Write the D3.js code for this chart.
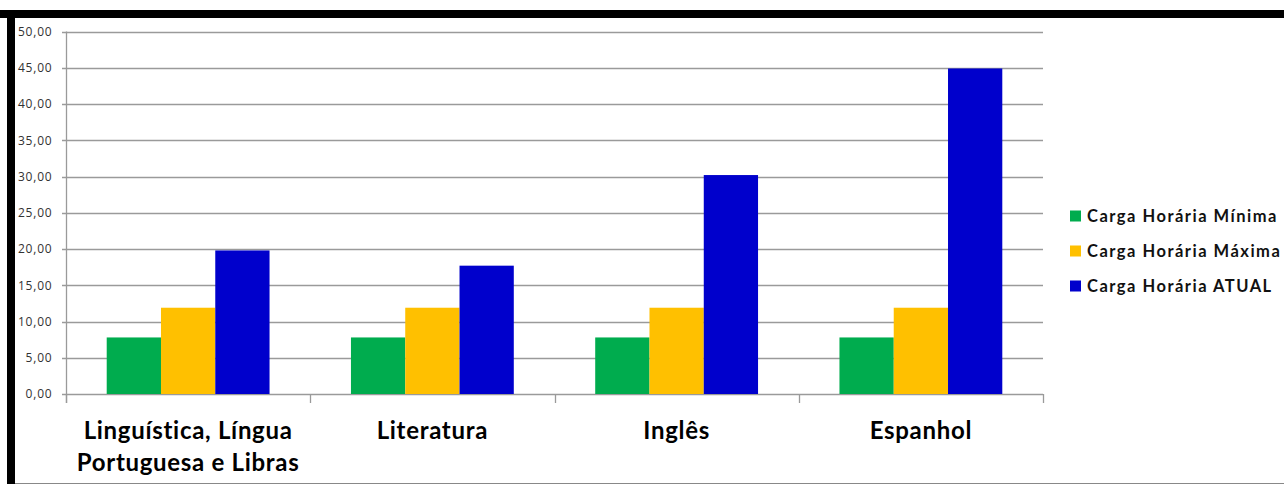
<!DOCTYPE html>
<html><head><meta charset="utf-8">
<script src="https://cdn.jsdelivr.net/npm/d3@7"></script>
<style>html,body{margin:0;padding:0;background:#fff;}svg{display:block;}</style>
</head><body>
<script>
const categories = [["Linguística, Língua","Portuguesa e Libras"],["Literatura"],["Inglês"],["Espanhol"]];
const seriesNames = ["Carga Horária Mínima","Carga Horária Máxima","Carga Horária ATUAL"];
const minima = [7.8, 7.8, 7.8, 7.8];
const maxima = [11.9, 11.9, 11.9, 11.9];
const atual = [19.8, 17.7, 30.2, 44.9];
const yTicks = [0,5,10,15,20,25,30,35,40,45,50];
const colors = ["#00AC4E","#FFC000","#0000CC"];

(function(){
const W=1284,H=484;
const svg=d3.select("body").append("svg").attr("width",W).attr("height",H);
svg.append("rect").attr("width",W).attr("height",H).attr("fill","#fff");
// frame
svg.append("rect").attr("x",0).attr("y",10).attr("width",W).attr("height",8).attr("fill","#000");
svg.append("rect").attr("x",7).attr("y",10).attr("width",8).attr("height",H-10).attr("fill","#000");
svg.append("line").attr("x1",15).attr("x2",W).attr("y1",483.5).attr("y2",483.5).attr("stroke","#888").attr("stroke-width",1);

const pLeft=66,pRight=1043,pTop=31.5,pBottom=394;
const idx=categories.map((c,i)=>i);
const x0=d3.scaleBand().domain(idx).range([pLeft,pRight]).paddingInner(1/3).paddingOuter(1/6);
const x1=d3.scaleBand().domain([0,1,2]).range([0,x0.bandwidth()]);
const y=d3.scaleLinear().domain([0,50]).range([pBottom,pTop]);
const fmt=v=>d3.format(".2f")(v).replace(".",",");

// gridlines
svg.append("g").selectAll("line").data(yTicks).join("line")
 .attr("x1",pLeft-4).attr("x2",pRight).attr("y1",d=>Math.round(y(d))+0.5).attr("y2",d=>Math.round(y(d))+0.5)
 .attr("stroke","#9a9a9a").attr("stroke-width",1.3);
// y axis
const yAxis=svg.append("g").attr("transform",`translate(${pLeft+0.5},0)`)
 .call(d3.axisLeft(y).tickValues(yTicks).tickFormat(fmt).tickSize(0).tickPadding(14));
yAxis.select(".domain").attr("stroke","#9a9a9a").attr("stroke-width",1.3).attr("d",`M0,${pTop}V${pBottom+9}`);
yAxis.selectAll("text").attr("font-family","'Open Sans', sans-serif").attr("font-size","12px")
 .attr("letter-spacing","0.8px").attr("fill","#333");

// bars
const series=[minima,maxima,atual];
const g=svg.append("g");
series.forEach((vals,s)=>{
  g.selectAll(null).data(vals).join("rect")
   .attr("x",(d,i)=>x0(i)+x1(s)).attr("width",x1.bandwidth())
   .attr("y",d=>y(d)).attr("height",d=>y(0)-y(d))
   .attr("fill",colors[s]);
});

// category ticks
const step=x0.step();
const bounds=d3.range(categories.length+1).map(i=>pLeft+i*step);
svg.append("g").selectAll("line").data(bounds).join("line")
 .attr("x1",d=>Math.round(d)+0.5).attr("x2",d=>Math.round(d)+0.5).attr("y1",pBottom).attr("y2",pBottom+9)
 .attr("stroke","#9a9a9a").attr("stroke-width",1.3);

// x labels
const xl=svg.append("g");
categories.forEach((lines,i)=>{
  const cx=x0(i)+x0.bandwidth()/2;
  const t=xl.append("text").attr("x",cx).attr("y",439)
   .attr("text-anchor","middle").attr("font-family","Lato, sans-serif").attr("font-weight","bold")
   .attr("font-size","24px").attr("letter-spacing","0.7px").attr("fill","#000");
  lines.forEach((l,j)=>t.append("tspan").attr("x",cx).attr("dy",j?32:0).text(l));
});

// legend
const lg=svg.append("g");
seriesNames.forEach((n,i)=>{
  const cy=216+i*35;
  lg.append("rect").attr("x",1070).attr("y",cy-5.5).attr("width",11).attr("height",11).attr("fill",colors[i]);
  lg.append("text").attr("x",1087).attr("y",cy+6).attr("font-family","Lato, sans-serif").attr("font-weight","bold")
   .attr("font-size","16.5px").attr("letter-spacing","1.5px").attr("fill","#111").text(n);
});
})();
</script>
</body></html>
